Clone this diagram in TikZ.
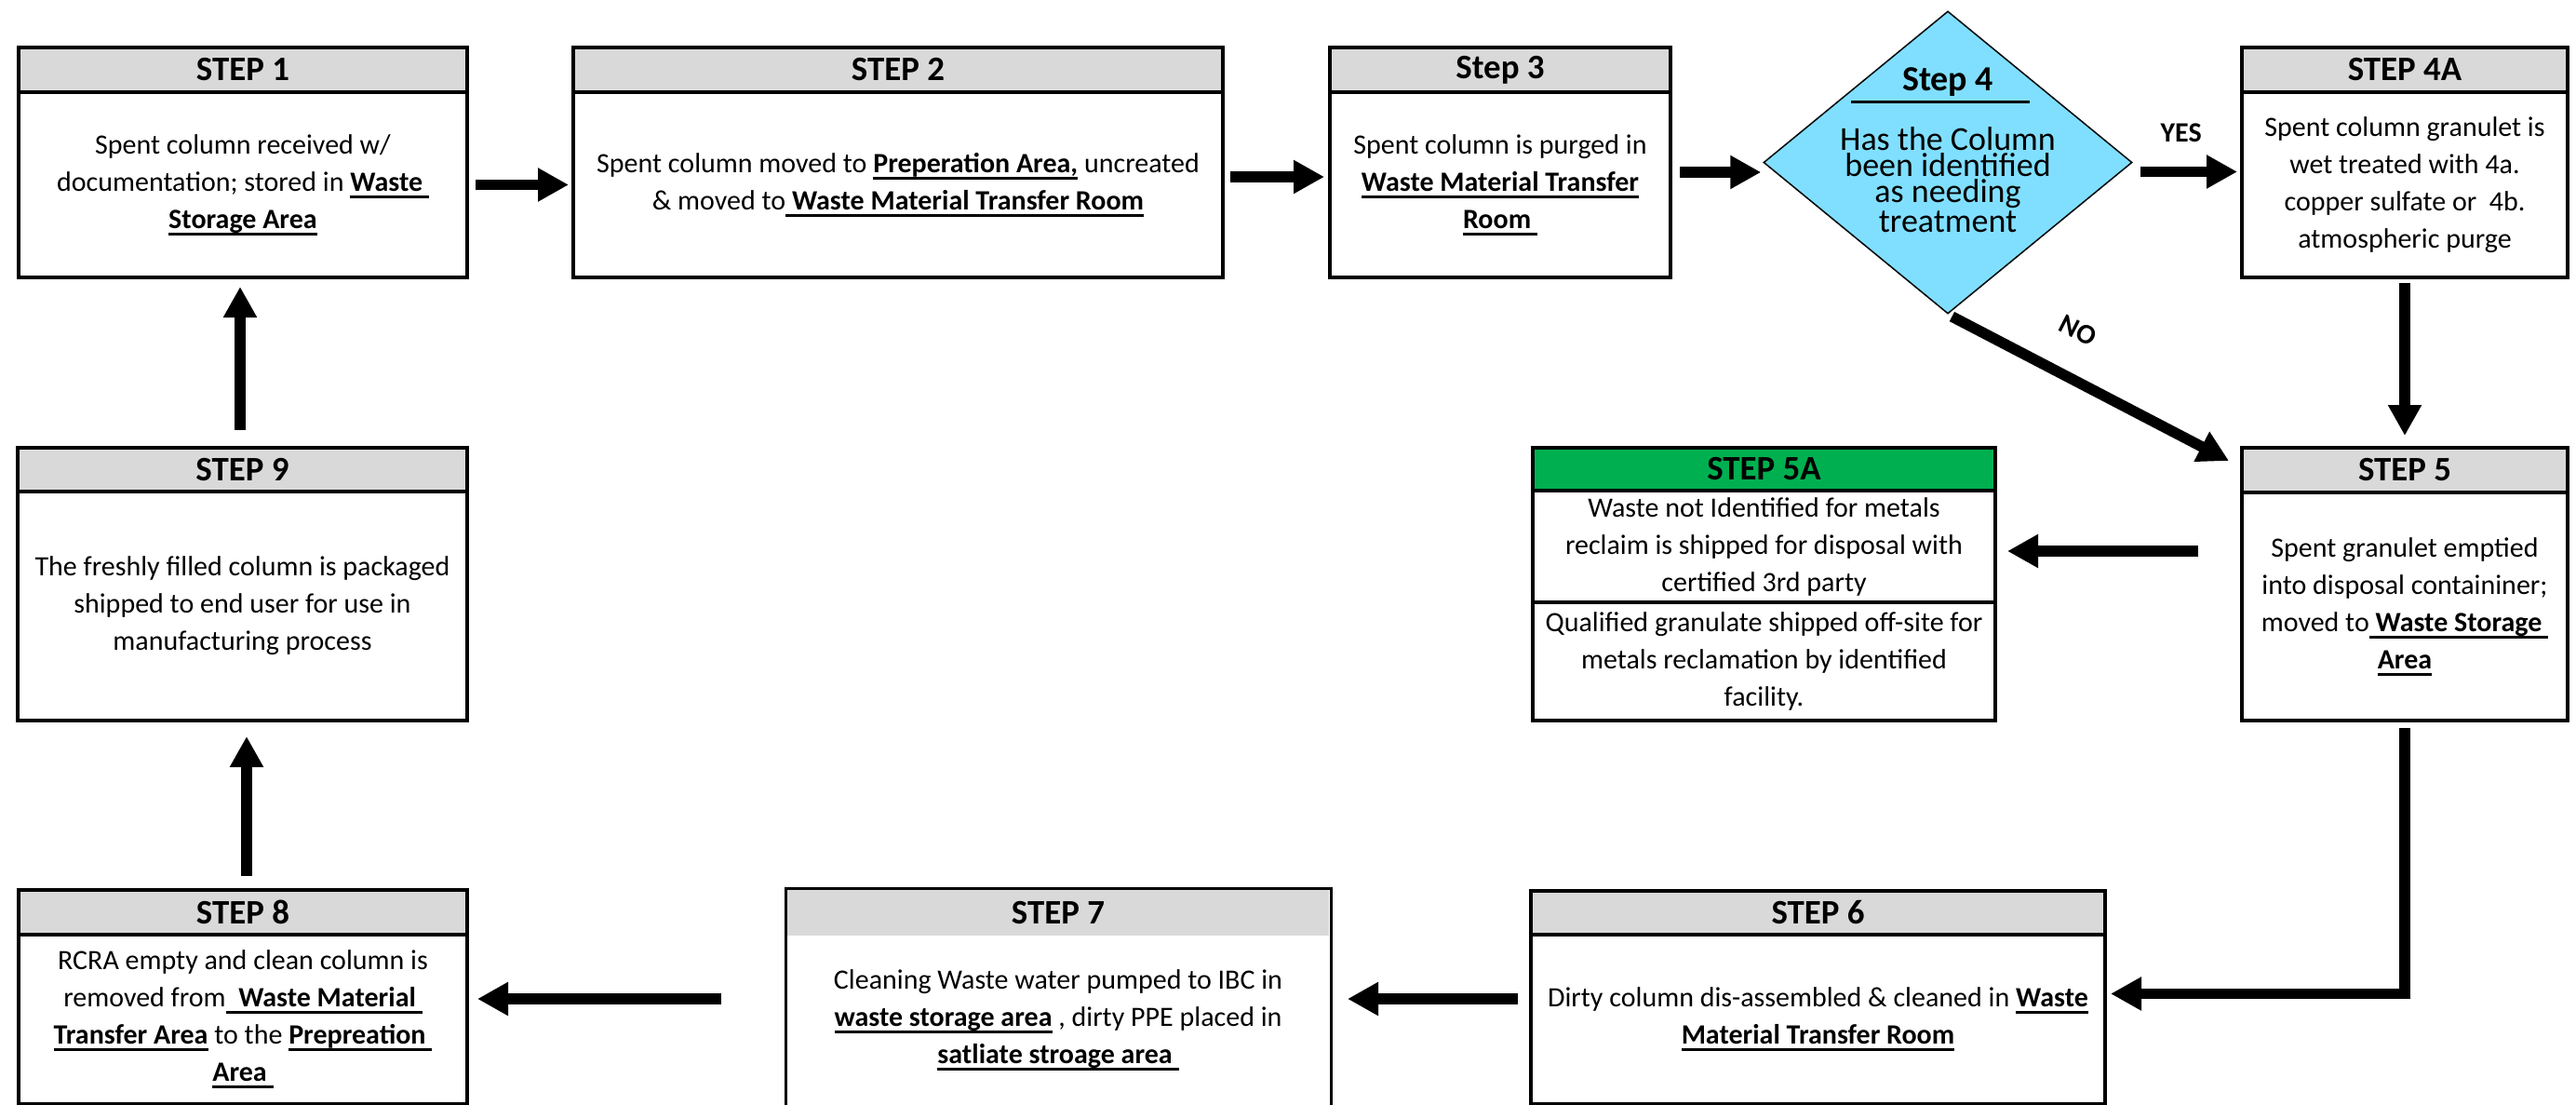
\documentclass[tikz,border=0pt]{standalone}
\usepackage{fontspec}
\setmainfont{Carlito}
\usetikzlibrary{arrows.meta,shapes.geometric}
\definecolor{hdrgray}{HTML}{D9D9D9}
\definecolor{stepgreen}{HTML}{00B050}
\definecolor{diablue}{HTML}{80DFFF}
\newcommand{\ud}[1]{\setbox0\hbox{\textbf{#1}}\rlap{\rule[-2.1pt]{\wd0}{0.85pt}}\box0\relax}
\tikzset{
  hdr/.style={draw, line width=0.04cm, fill=hdrgray, inner sep=0pt, anchor=north west,
    font=\fontsize{10.5pt}{12pt}\selectfont\bfseries},
  body/.style={draw, line width=0.04cm, fill=white, inner sep=0pt, anchor=north west,
    align=center, font=\fontsize{8.54pt}{11.38pt}\selectfont},
  arr/.style={line width=0.115cm, -{Triangle[length=0.33cm,width=0.34cm]}},
  lbl/.style={font=\fontsize{8.54pt}{10pt}\selectfont\bfseries, inner sep=0pt}
}
\begin{document}
\begin{tikzpicture}
\useasboundingbox[fill=white] (0,0) rectangle (27.68,-11.86);

% Step 1
\node[body, minimum width=4.82cm, minimum height=1.99cm] (s1) at (0.18,-0.97)
  {Spent column received w/\\ documentation; stored in \ud{Waste\ }\\ \ud{Storage Area}};
\node[hdr, minimum width=4.82cm, minimum height=0.48cm] (h1) at (0.18,-0.49) {STEP 1};

% Step 2
\node[body, minimum width=6.98cm, minimum height=1.99cm] (s2) at (6.14,-0.97)
  {Spent column moved to \ud{Preperation Area,} uncreated\\ \& moved to\ud{\ Waste Material Transfer Room}};
\node[hdr, minimum width=6.98cm, minimum height=0.48cm] (h2) at (6.14,-0.49) {STEP 2};

% Step 3
\node[body, minimum width=3.66cm, minimum height=1.99cm] (s3) at (14.27,-0.97)
  {Spent column is purged in\\ \ud{Waste Material Transfer}\\ \ud{Room\ }};
\node[hdr, minimum width=3.66cm, minimum height=0.48cm] (h3) at (14.27,-0.49) {Step 3};

% Step 4 (decision)
\node[diamond, draw, line width=0.015cm, fill=diablue, inner sep=0pt, aspect=1.22,
  minimum width=3.96cm, minimum height=3.25cm] (dia) at (20.93,-1.745) {};
\node[font=\fontsize{10.8pt}{12pt}\selectfont\bfseries, inner sep=0pt] (dlbl) at (20.93,-0.88) {Step 4};
\draw[line width=0.03cm] (19.89,-1.09) -- (21.81,-1.09);
\node[align=center, inner sep=0pt, font=\fontsize{10.24pt}{7.97pt}\selectfont] (dtxt) at (20.93,-1.93)
  {Has the Column\\ been identified\\ as needing\\ treatment};

% Step 4A
\node[body, minimum width=3.50cm, minimum height=1.99cm] (s4a) at (24.07,-0.97)
  {Spent column granulet is\\ wet treated with 4a.\\ copper sulfate or~~4b.\\ atmospheric purge};
\node[hdr, minimum width=3.50cm, minimum height=0.48cm] (h4a) at (24.07,-0.49) {STEP 4A};

% Step 5
\node[body, minimum width=3.50cm, minimum height=2.45cm] (s5) at (24.07,-5.27)
  {Spent granulet emptied\\ into disposal containiner;\\ moved to\ud{\ Waste Storage\ }\\ \ud{Area}};
\node[hdr, minimum width=3.50cm, minimum height=0.48cm] (h5) at (24.07,-4.79) {STEP 5};

% Step 5A
\node[body, minimum width=4.97cm, minimum height=1.20cm] (c1) at (16.45,-5.25)
  {Waste not Identified for metals\\ reclaim is shipped for disposal with\\ certified 3rd party};
\node[body, minimum width=4.97cm, minimum height=1.27cm] (c2) at (16.45,-6.45)
  {Qualified granulate shipped off-site for\\ metals reclamation by identified\\ facility.};
\node[hdr, fill=stepgreen, minimum width=4.97cm, minimum height=0.46cm] (h5a) at (16.45,-4.79) {STEP 5A};

% Step 9
\node[body, minimum width=4.83cm, minimum height=2.46cm] (s9) at (0.17,-5.26)
  {The freshly filled column is packaged\\ shipped to end user for use in\\ manufacturing process};
\node[hdr, minimum width=4.83cm, minimum height=0.47cm] (h9) at (0.17,-4.79) {STEP 9};

% Step 8
\node[body, minimum width=4.82cm, minimum height=1.82cm] (s8) at (0.18,-10.02)
  {RCRA empty and clean column is\\ removed from\ud{\ \ Waste Material\ }\\ \ud{Transfer Area} to the \ud{Prepreation\ }\\ \ud{Area\ }};
\node[hdr, minimum width=4.82cm, minimum height=0.48cm] (h8) at (0.18,-9.54) {STEP 8};

% Step 7
\node[body, draw=none, minimum width=5.82cm, minimum height=1.81cm] (s7) at (8.44,-10.03)
  {Cleaning Waste water pumped to IBC in\\ \ud{waste storage area} , dirty PPE placed in\\ \ud{satliate stroage area\ }};
\node[hdr, draw=none, minimum width=5.82cm, minimum height=0.49cm] (h7) at (8.44,-9.54) {STEP 7};
\draw[line width=0.03cm] (h7.north west) rectangle (s7.south east);

% Step 6
\node[body, minimum width=6.17cm, minimum height=1.82cm] (s6) at (16.43,-10.02)
  {Dirty column dis-assembled \& cleaned in \ud{Waste}\\ \ud{Material Transfer Room}};
\node[hdr, minimum width=6.17cm, minimum height=0.47cm] (h6) at (16.43,-9.55) {STEP 6};

% Connectors
\draw[arr, shorten <=0.07cm, shorten >=0.03cm] (s1.east) -- (s2.west);
\draw[arr, shorten <=0.06cm, shorten >=0.04cm] (s2.east |- 0,-1.90) -- (s3.west |- 0,-1.90);
\draw[arr, shorten <=0.08cm, shorten >=0.02cm] (s3.east |- 0,-1.85) -- (dia.west |- 0,-1.85);
\draw[arr, shorten <=0.08cm, shorten >=0.03cm] (dia.east |- 0,-1.845) -- (s4a.west |- 0,-1.845)
  node[lbl, pos=0.45, above=0.26cm] (yes) {YES};
\draw[arr, shorten <=0.04cm, shorten >=0.11cm] (s4a.south) -- (h5.north);
\coordinate (notip) at ([xshift=-0.12cm,yshift=-0.16cm]h5.north west);
\draw[arr, shorten <=0.05cm] (dia.south) -- (notip);
\node[lbl, rotate=-27] (no) at (22.33,-3.55) {NO};
\draw[arr, shorten <=0.45cm, shorten >=0.11cm] (s5.west |- 0,-5.92) -- (c1.east |- 0,-5.92);
\draw[arr, shorten <=0.06cm, shorten >=0.04cm] (s5.south) -- (s5.south |- 0,-10.675) -- (s6.east |- 0,-10.675);
\draw[arr, shorten <=0.12cm, shorten >=0.18cm] (s6.west |- 0,-10.73) -- (s7.east |- 0,-10.73);
\draw[arr, shorten <=0.69cm, shorten >=0.09cm] (s7.west |- 0,-10.73) -- (s8.east |- 0,-10.73);
\draw[arr, shorten <=0.13cm, shorten >=0.15cm] (2.65,0 |- h8.north) -- (2.65,0 |- s9.south);
\draw[arr, shorten <=0.17cm, shorten >=0.08cm] (2.58,0 |- h9.north) -- (2.58,0 |- s1.south);
\end{tikzpicture}
\end{document}
